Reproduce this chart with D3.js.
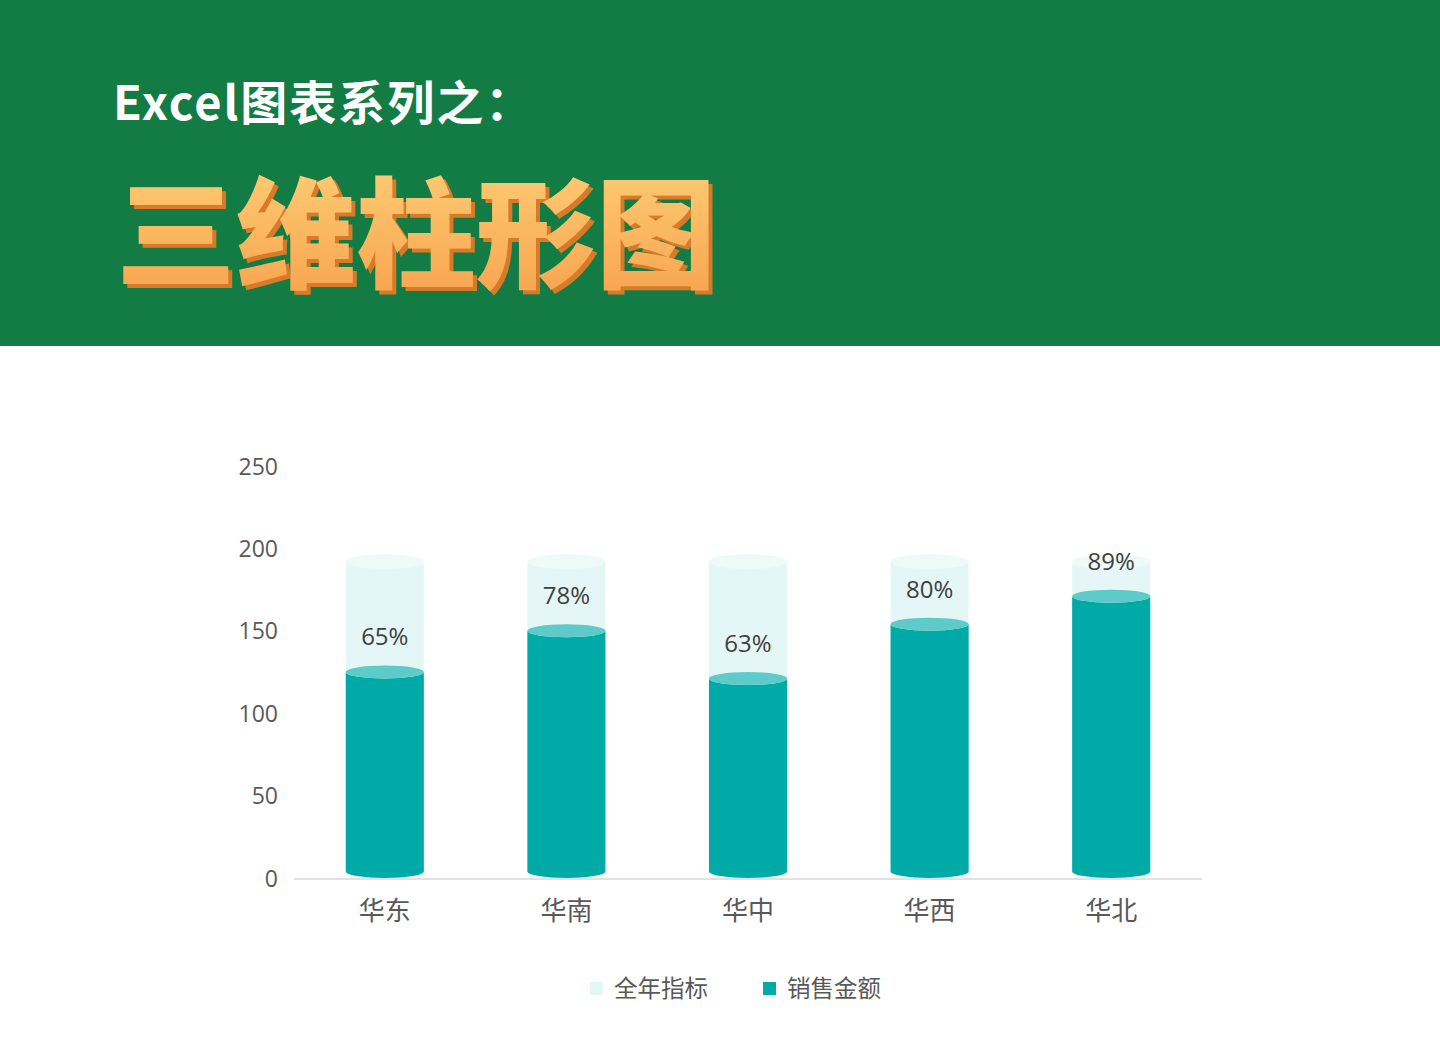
<!DOCTYPE html>
<html><head><meta charset="utf-8">
<script src="https://cdn.jsdelivr.net/npm/d3@7"></script>
<style>
html,body{margin:0;padding:0;background:#fff;}
svg{display:block;}
</style></head>
<body>
<script>
const categories = ["华东","华南","华中","华西","华北"];
const targetValues = [192,192,192,192,192];
const salesValues = [125,150,121,154,171];
const pctLabels = ["65%","78%","63%","80%","89%"];
const yTicks = [0,50,100,150,200,250];
const seriesNames = ["全年指标","销售金额"];

const W=1440,H=1050;
const svg=d3.select("body").append("svg").attr("width",W).attr("height",H);
const defs=svg.append("defs");
const g1=defs.append("linearGradient").attr("id","og").attr("x1",0).attr("y1",0).attr("x2",0).attr("y2",1);
g1.append("stop").attr("offset","0%").attr("stop-color","#ffd27a");
g1.append("stop").attr("offset","100%").attr("stop-color","#f7a04a");
const f=defs.append("filter").attr("id","sh").attr("x","-5%").attr("y","-5%").attr("width","115%").attr("height","120%");
f.append("feOffset").attr("in","SourceAlpha").attr("dx",4).attr("dy",4).attr("result","off");
f.append("feFlood").attr("flood-color","#d97a2a").attr("result","fl");
f.append("feComposite").attr("in","fl").attr("in2","off").attr("operator","in").attr("result","shadow");
const fm=f.append("feMerge");
fm.append("feMergeNode").attr("in","shadow");
fm.append("feMergeNode").attr("in","SourceGraphic");

// header
svg.append("rect").attr("x",0).attr("y",0).attr("width",W).attr("height",346).attr("fill","#127c44");
svg.append("text").attr("x",113).attr("y",120).attr("fill","#fff")
  .attr("font-family","'Noto Sans CJK SC','Noto Sans',sans-serif").attr("font-weight",700)
  .attr("font-size",47).attr("letter-spacing",2).text("Excel图表系列之：");
svg.append("text").attr("x",116).attr("y",279).attr("fill","url(#og)").attr("filter","url(#sh)")
  .attr("font-family","'Noto Sans CJK SC',sans-serif").attr("font-weight",900).attr("font-size",120)
  .text("三维柱形图");

// chart
const x=d3.scaleBand().domain(categories).range([294,1202]).paddingInner(0.57).paddingOuter(0.285);
const y=d3.scaleLinear().domain([0,250]).range([878,466]);
const bw=x.bandwidth(), rx=bw/2, ry=6.5;
const font="'Open Sans','Noto Sans CJK SC',sans-serif";
const cjk="'Noto Sans CJK SC',sans-serif";

// y axis
const ya=svg.append("g").attr("transform","translate(278,0)")
  .call(d3.axisLeft(y).tickValues(yTicks).tickSize(0).tickPadding(0));
ya.select(".domain").remove();
ya.selectAll("text").attr("font-size",23).attr("fill","#595959").attr("font-family",font).attr("dy","0.35em");

// x axis line
svg.append("line").attr("x1",294).attr("x2",1202).attr("y1",y(0)+1).attr("y2",y(0)+1).attr("stroke","#d9d9d9").attr("stroke-width",1.5);
const xa=svg.append("g").attr("transform",`translate(0,${y(0)})`).call(d3.axisBottom(x).tickSize(0).tickPadding(24));
xa.select(".domain").remove();
xa.selectAll("text").attr("font-size",26).attr("fill","#595959").attr("font-family",cjk).attr("dy","0.7em");

function cylPath(cx,yTop,yBot){
  const l=cx-rx,r=cx+rx;
  return `M${l},${yTop} L${l},${yBot} A${rx},${ry} 0 0 0 ${r},${yBot} L${r},${yTop} A${rx},${ry} 0 0 1 ${l},${yTop} Z`;
}
categories.forEach((c,i)=>{
  const cx=x(c)+bw/2;
  const g=svg.append("g");
  g.append("path").attr("d",cylPath(cx,y(targetValues[i]),y(0)-ry)).attr("fill","#e5f6f6");
  g.append("ellipse").attr("cx",cx).attr("cy",y(targetValues[i])).attr("rx",rx).attr("ry",ry+1).attr("fill","#eef9f9");
  g.append("path").attr("d",cylPath(cx,y(salesValues[i]),y(0)-ry)).attr("fill","#00aaa7");
  g.append("ellipse").attr("cx",cx).attr("cy",y(salesValues[i])).attr("rx",rx).attr("ry",ry).attr("fill","#5ccbc9");
  g.append("text").attr("x",cx).attr("y",y(salesValues[i])-35).attr("text-anchor","middle").attr("dy","0.35em")
    .attr("font-size",24).attr("fill","#404040").attr("font-family",font).text(pctLabels[i]);
});

// legend
const lg=svg.append("g").attr("font-family",cjk).attr("font-size",23.5).attr("fill","#595959");
const lgItems=[{x:590,c:"#e5f6f6"},{x:763,c:"#00aaa7"}];
lgItems.forEach((d,i)=>{
  lg.append("rect").attr("x",d.x).attr("y",982).attr("width",13).attr("height",13).attr("fill",d.c);
  lg.append("text").attr("x",d.x+24).attr("y",989).attr("dy","0.35em").text(seriesNames[i]);
});
</script>
</body></html>
